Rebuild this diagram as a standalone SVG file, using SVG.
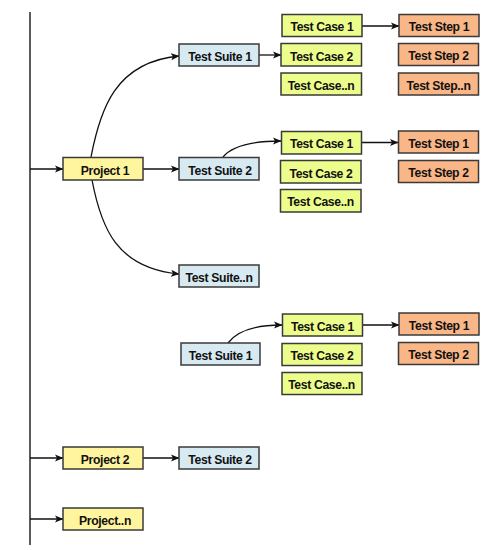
<svg xmlns="http://www.w3.org/2000/svg" width="498" height="550" viewBox="0 0 498 550">
<defs>
<marker id="ah" markerWidth="10" markerHeight="8" refX="8" refY="4" orient="auto" markerUnits="userSpaceOnUse">
<path d="M0,0.5 L8.5,4 L0,7.5 L2,4 z" fill="#111"/>
</marker>
<style>
.b rect{stroke:#3a3a3a;stroke-width:1.5}
.p rect{fill:#fff59e}
.s rect{fill:#d7eaf1}
.c rect{fill:#edfd8b}
.t rect{fill:#f9b686}
text{font-family:"Liberation Sans",Arial,sans-serif;font-weight:bold;font-size:12.2px;letter-spacing:-0.35px;fill:#111;text-anchor:middle}
.cn path{fill:none;stroke:#111;stroke-width:1.3}
.cn .a{marker-end:url(#ah)}
</style>
</defs>
<rect width="498" height="550" fill="#fff"/>
<g class="cn" id="connectors">
<path d="M30,12 V545" style="stroke:#333;stroke-width:1.6"/>
<path class="a" d="M30,169 H63"/>
<path class="a" d="M30,458 H63"/>
<path class="a" d="M30,519 H63"/>
<path class="a" d="M143,169 H179"/>
<path class="a" d="M143,458 H179"/>
<path class="a" d="M91,157 C100,110 115,62 179,56"/>
<path class="a" d="M92,180 C101,227 116,268 179,274"/>
<path class="a" d="M259,55 H281"/>
<path class="a" d="M362,26 H399"/>
<path class="a" d="M223,157 C232,146 250,141 281,141"/>
<path class="a" d="M362,142.5 H398"/>
<path class="a" d="M228,343 C237,331 255,325 282,325"/>
<path class="a" d="M362,325 H399"/>
</g>
<g id="project1" class="b p"><rect x="63" y="157.5" width="80" height="22.5"/><text x="105" y="174.5">Project 1</text></g>
<g id="project2" class="b p"><rect x="63" y="447" width="80" height="22"/><text x="105" y="463.5">Project 2</text></g>
<g id="projectn" class="b p"><rect x="63" y="508" width="80" height="22"/><text x="105" y="524.5">Project..n</text></g>
<g id="suite1" class="b s"><rect x="179" y="44" width="80" height="22"/><text x="220" y="60.5">Test Suite 1</text></g>
<g id="suite2" class="b s"><rect x="179" y="157.5" width="80" height="22.5"/><text x="220" y="174.5">Test Suite 2</text></g>
<g id="suiten" class="b s"><rect x="179" y="265" width="80" height="22"/><text x="219" y="281.5">Test Suite..n</text></g>
<g id="suite1b" class="b s"><rect x="181" y="343" width="79" height="22"/><text x="220.5" y="359.5">Test Suite 1</text></g>
<g id="suite2b" class="b s"><rect x="179" y="447" width="80" height="22"/><text x="220" y="463.5">Test Suite 2</text></g>
<g id="case1a" class="b c"><rect x="282" y="14.5" width="80" height="22"/><text x="322" y="31">Test Case 1</text></g>
<g id="case2a" class="b c"><rect x="281" y="43.5" width="80.5" height="22.5"/><text x="321.5" y="60.5">Test Case 2</text></g>
<g id="casena" class="b c"><rect x="281" y="73" width="80.5" height="22"/><text x="321" y="89.5">Test Case..n</text></g>
<g id="step1a" class="b t"><rect x="399" y="14.5" width="80" height="22"/><text x="439" y="31">Test Step 1</text></g>
<g id="step2a" class="b t"><rect x="398.5" y="43.5" width="80" height="22"/><text x="438.5" y="60">Test Step 2</text></g>
<g id="stepna" class="b t"><rect x="398.5" y="73" width="80" height="22"/><text x="438.5" y="89.5">Test Step..n</text></g>
<g id="case1b" class="b c"><rect x="281.5" y="131.5" width="80" height="22.5"/><text x="321.5" y="148">Test Case 1</text></g>
<g id="case2b" class="b c"><rect x="280.5" y="160.5" width="80.5" height="22.5"/><text x="321" y="177.5">Test Case 2</text></g>
<g id="casenb" class="b c"><rect x="280.5" y="189.5" width="80.5" height="22.5"/><text x="320.5" y="206">Test Case..n</text></g>
<g id="step1b" class="b t"><rect x="398.5" y="131" width="80" height="22"/><text x="438.5" y="147.5">Test Step 1</text></g>
<g id="step2b" class="b t"><rect x="398.5" y="160.5" width="80" height="22"/><text x="438.5" y="177">Test Step 2</text></g>
<g id="case1c" class="b c"><rect x="282.5" y="314" width="80" height="22"/><text x="322.5" y="330.5">Test Case 1</text></g>
<g id="case2c" class="b c"><rect x="282" y="343.5" width="80" height="22"/><text x="322" y="360">Test Case 2</text></g>
<g id="casenc" class="b c"><rect x="282" y="372.5" width="80" height="22"/><text x="321.5" y="389">Test Case..n</text></g>
<g id="step1c" class="b t"><rect x="399" y="313" width="80" height="22"/><text x="439" y="329.5">Test Step 1</text></g>
<g id="step2c" class="b t"><rect x="398.5" y="342.5" width="80" height="22"/><text x="438.5" y="359">Test Step 2</text></g>
</svg>
